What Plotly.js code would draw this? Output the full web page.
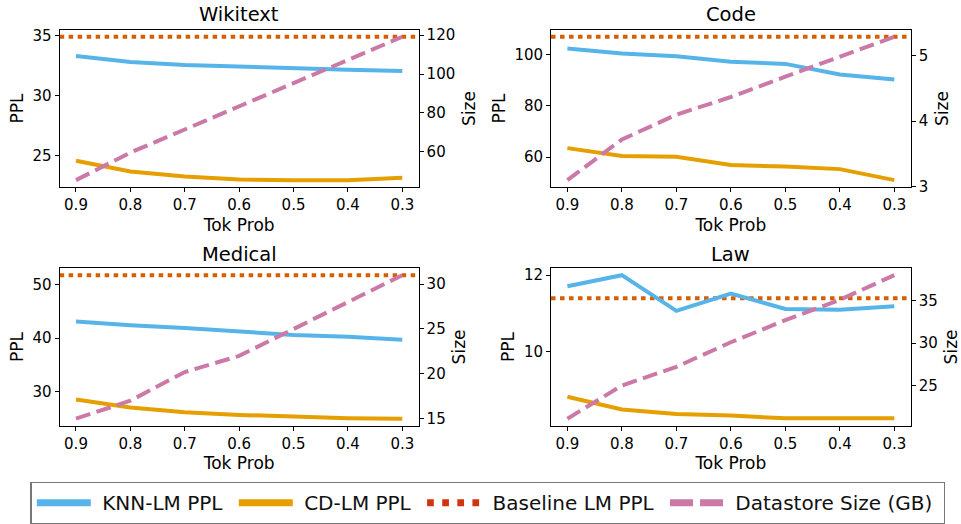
<!DOCTYPE html>
<html><head><meta charset="utf-8">
<script src="https://cdn.plot.ly/plotly-3.0.1.min.js"></script>
<style>html,body{margin:0;padding:0;background:#fff}#chart{width:961px;height:524px}</style>
</head><body><div id="chart"></div>
<script>
// ---- data ----
const tokProb = [0.9, 0.8, 0.7, 0.6, 0.5, 0.4, 0.3];
const tickLabels = ['0.9', '0.8', '0.7', '0.6', '0.5', '0.4', '0.3'];
const datasets = ['Wikitext', 'Code', 'Medical', 'Law'];
const seriesNames = ['KNN-LM PPL', 'CD-LM PPL', 'Baseline LM PPL', 'Datastore Size (GB)'];

const knnWikitext = [33.3, 32.8, 32.55, 32.4, 32.3, 32.15, 32.05];
const cdWikitext = [24.56, 23.67, 23.25, 23.0, 22.95, 22.95, 23.15];
const baseWikitext = 34.9;
const sizeWikitext = [45.3, 59.5, 71.4, 83.4, 95.3, 107.2, 119.2];

const knnCode = [102.4, 100.5, 99.4, 97.2, 96.4, 92.3, 90.3];
const cdCode = [63.5, 60.4, 60.1, 56.9, 56.3, 55.3, 51.0];
const baseCode = 107.0;
const sizeCode = [3.1, 3.72, 4.1, 4.37, 4.68, 4.98, 5.29];

const knnMedical = [43.1, 42.4, 41.9, 41.3, 40.6, 40.25, 39.7];
const cdMedical = [28.5, 27.0, 26.1, 25.6, 25.3, 25.0, 24.9];
const baseMedical = 51.8;
const sizeMedical = [15.0, 17.0, 20.2, 22.0, 25.0, 28.0, 31.0];

const knnLaw = [11.71, 12.0, 11.07, 11.52, 11.12, 11.1, 11.19];
const cdLaw = [8.83, 8.50, 8.38, 8.34, 8.27, 8.26, 8.27];
const baseLaw = 11.40;
const sizeLaw = [21.1, 25.0, 27.2, 30.1, 32.7, 35.1, 38.0];

// ---- styling ----
const FONT = 'DejaVu Sans, Verdana, sans-serif';
const C_KNN = '#56B4E9', C_CD = '#E69F00', C_BASE = '#D55E00', C_SIZE = '#CC79A7';
const NB = '\u00A0';
const panels = [
  {knn: knnWikitext, cd: cdWikitext, base: baseWikitext, size: sizeWikitext, lDt: 5, rDt: 20},
  {knn: knnCode, cd: cdCode, base: baseCode, size: sizeCode, lDt: 20, rDt: 1},
  {knn: knnMedical, cd: cdMedical, base: baseMedical, size: sizeMedical, lDt: 10, rDt: 5},
  {knn: knnLaw, cd: cdLaw, base: baseLaw, size: sizeLaw, lDt: 2, rDt: 5}
];
const xDom = [[0.0621, 0.4356], [0.5734, 0.9476]];
const yDom = [[0.6412, 0.9433], [0.1842, 0.4866]];

function padRange(vals) {
  const mn = Math.min(...vals), mx = Math.max(...vals), s = mx - mn;
  return [mn - 0.05 * s, mx + 0.05 * s];
}
const xr = padRange(tokProb);

const traces = [];
const shapes = [];
const annotations = [];
const layout = {
  width: 961, height: 524,
  margin: {l: 0, r: 0, t: 0, b: 0},
  paper_bgcolor: '#fff', plot_bgcolor: '#fff',
  font: {family: FONT, size: 15, color: '#000'},
  showlegend: true,
  legend: {
    orientation: 'h', x: 0.5078, xanchor: 'center', y: 0.0769, yanchor: 'top',
    font: {family: FONT, size: 20, color: '#111'},
    bgcolor: '#fff', bordercolor: '#777', borderwidth: 1.3, itemwidth: 54
  }
};

panels.forEach((p, i) => {
  const xn = i === 0 ? 'x' : 'x' + (i + 1);
  const yl = i === 0 ? 'y' : 'y' + (2 * i + 1);
  const yr = 'y' + (2 * i + 2);
  const xd = xDom[i % 2], yd = yDom[Math.floor(i / 2)];
  const axCommon = {
    showgrid: false, zeroline: false, showline: true, linecolor: '#000', linewidth: 1,
    ticks: 'outside', ticklen: 4, tickwidth: 1, tickcolor: '#000',
    tickfont: {family: FONT, size: 15, color: '#000'}
  };
  layout['xaxis' + (i === 0 ? '' : i + 1)] = Object.assign({}, axCommon, {
    domain: xd, anchor: yl, range: [xr[1], xr[0]], mirror: true,
    tickmode: 'array', tickvals: tokProb, ticktext: tickLabels,
    title: {text: 'Tok Prob', font: {family: FONT, size: 17, color: '#000'}, standoff: 5}
  });
  const lr = padRange(p.knn.concat(p.cd, [p.base]));
  layout['yaxis' + (i === 0 ? '' : 2 * i + 1)] = Object.assign({}, axCommon, {
    domain: yd, anchor: xn, range: lr, mirror: true, tick0: 0, dtick: p.lDt,
    title: {text: 'PPL', font: {family: FONT, size: 17, color: '#000'}, standoff: 4}
  });
  const rr = padRange(p.size);
  layout['yaxis' + (2 * i + 2)] = Object.assign({}, axCommon, {
    domain: yd, anchor: xn, overlaying: yl, side: 'right', range: rr, tick0: 0, dtick: p.rDt,
    title: {text: 'Size', font: {family: FONT, size: 17, color: '#000'}, standoff: 8}
  });
  traces.push({x: tokProb, y: p.knn, xaxis: xn, yaxis: yl, mode: 'lines', name: seriesNames[0],
    line: {color: C_KNN, width: 4}, showlegend: false, hoverinfo: 'skip'});
  traces.push({x: tokProb, y: p.cd, xaxis: xn, yaxis: yl, mode: 'lines', name: seriesNames[1],
    line: {color: C_CD, width: 4}, showlegend: false, hoverinfo: 'skip'});
  traces.push({x: tokProb, y: p.size, xaxis: xn, yaxis: yr, mode: 'lines', name: seriesNames[3],
    line: {color: C_SIZE, width: 4, dash: '15px,6.5px'}, showlegend: false, hoverinfo: 'skip'});
  shapes.push({type: 'line', xref: xn + ' domain', x0: 0, x1: 1, yref: yl, y0: p.base, y1: p.base,
    layer: 'below', line: {color: C_BASE, width: 4, dash: '4.5px,4.5px'}});
  annotations.push({text: datasets[i], xref: 'paper', yref: 'paper',
    x: (xd[0] + xd[1]) / 2, y: i < 2 ? 1 - 15 / 524 : 1 - 255 / 524,
    xanchor: 'center', yanchor: 'middle', showarrow: false,
    font: {family: FONT, size: 19.5, color: '#000'}});
});

// legend-only entries
const legendStyles = [
  {color: C_KNN, width: 7},
  {color: C_CD, width: 7},
  {color: '#D0350F', width: 7, dash: '6.7px,8.4px'},
  {color: C_SIZE, width: 7, dash: '23px,7px'}
];
seriesNames.forEach((n, k) => {
  traces.push({x: [null], y: [null], xaxis: 'x', yaxis: 'y', mode: 'lines', name: NB + n + NB,
    line: legendStyles[k], showlegend: true, hoverinfo: 'skip'});
});

layout.shapes = shapes;
layout.annotations = annotations;
Plotly.newPlot('chart', traces, layout, {displayModeBar: false, staticPlot: true});
</script>
</body></html>
